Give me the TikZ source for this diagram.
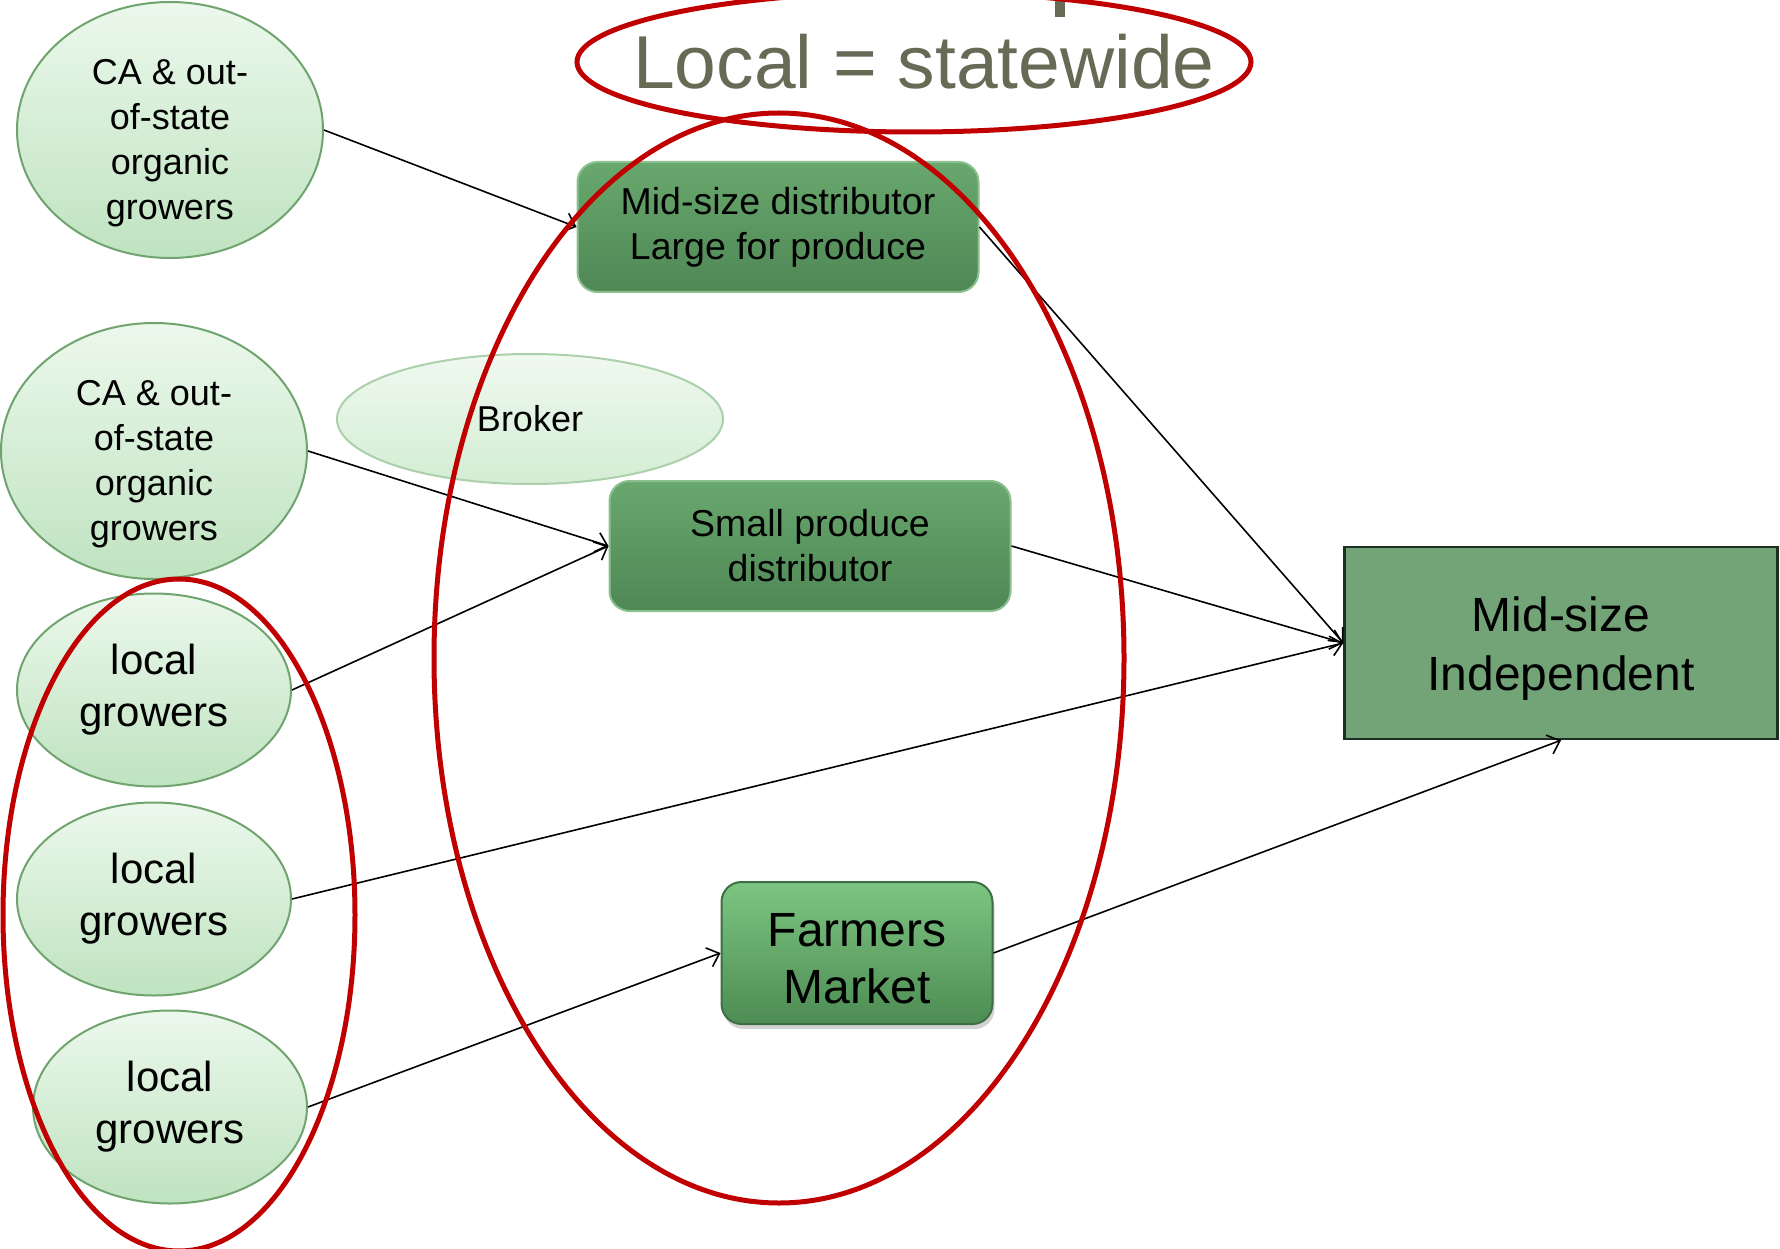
\documentclass[tikz,border=0pt]{standalone}
\usepackage{fontspec}
\setmainfont{Liberation Sans}
\usetikzlibrary{arrows.meta,shapes.geometric,shadows}

\definecolor{growerline}{HTML}{6FA46F}
\definecolor{growertop}{HTML}{ECF8EC}
\definecolor{growerbot}{HTML}{BFE3C0}
\definecolor{brokerline}{HTML}{ABD0AB}
\definecolor{brokertop}{HTML}{F0F9F0}
\definecolor{brokerbot}{HTML}{D3EDD3}
\definecolor{distline}{HTML}{8DC08F}
\definecolor{disttop}{HTML}{68A86E}
\definecolor{distbot}{HTML}{4F8755}
\definecolor{fmtop}{HTML}{7DC582}
\definecolor{fmbot}{HTML}{4D8C53}
\definecolor{fmline}{HTML}{3E6E44}
\definecolor{indepfill}{HTML}{72A478}
\definecolor{indepline}{HTML}{1E2E20}
\definecolor{ringred}{HTML}{C00000}
\definecolor{titlegray}{HTML}{696A55}

% invisible strut that lowers a multi-line label a little
\newcommand{\toppad}[1]{\rule{0pt}{#1}}

\begin{document}
\begin{tikzpicture}[x=1pt,y=-1pt,
  grower/.style={ellipse, draw=growerline, line width=2pt,
    top color=growertop, bottom color=growerbot,
    minimum width=306pt, minimum height=256pt, inner xsep=0pt, inner ysep=-20pt,
    align=center, font=\fontsize{36}{45}\selectfont},
  localgrower/.style={ellipse, draw=growerline, line width=2pt,
    top color=growertop, bottom color=growerbot,
    minimum width=274pt, minimum height=193pt, inner sep=0pt,
    align=center, font=\fontsize{42}{52}\selectfont},
  brokerbox/.style={ellipse, draw=brokerline, line width=2pt,
    top color=brokertop, bottom color=brokerbot,
    minimum width=386pt, minimum height=130pt, inner sep=0pt,
    font=\fontsize{36}{45}\selectfont},
  distbox/.style={rectangle, rounded corners=20pt, draw=distline, line width=2pt,
    top color=disttop, bottom color=distbot,
    minimum width=401pt, minimum height=130pt, inner sep=0pt,
    align=center, font=\fontsize{37.5}{45}\selectfont},
  marketbox/.style={rectangle, rounded corners=20pt, draw=fmline, line width=2pt,
    top color=fmtop, bottom color=fmbot,
    drop shadow={shadow xshift=2pt, shadow yshift=-5pt, opacity=0.35},
    minimum width=271pt, minimum height=142pt, inner sep=0pt,
    align=center, font=\fontsize{48}{57}\selectfont},
  retailbox/.style={rectangle, draw=indepline, fill=indepfill, line width=2.5pt,
    minimum width=433pt, minimum height=192pt, inner sep=0pt,
    align=center, font=\fontsize{48}{59}\selectfont},
  flow/.style={draw=black, line width=1.6pt,
    -{Straight Barb[length=11pt,width=20pt,line width=1.6pt]}},
  ring/.style={draw=ringred, line width=5pt}
]
\useasboundingbox (0,0) rectangle (1780,1249);

% heading
\fill[titlegray] (1055,0) rectangle (1065,17);
\node[anchor=base, text=titlegray, font=\fontsize{75}{90}\selectfont, inner sep=0pt]
  (heading) at (924,89) {Local = statewide};

% growers
\node[grower] (ca1) at (170,130) {\toppad{52pt}CA \& out-\\of-state\\organic\\growers};
\node[grower] (ca2) at (154,451) {\toppad{52pt}CA \& out-\\of-state\\organic\\growers};
\node[localgrower] (loc1) at (154,690) {local\\growers};
\node[localgrower] (loc2) at (154,899) {local\\growers};
\node[localgrower] (loc3) at (170,1107) {local\\growers};

% intermediaries
\node[brokerbox] (broker) at (530,419) {Broker};
\node[distbox] (middist) at (778,227) {Mid-size distributor\\Large for produce};
\node[distbox] (smalldist) at (810,546) {Small produce\\distributor};
\node[marketbox] (market) at (857,953) {\toppad{45pt}Farmers\\Market};

% retailer
\node[retailbox] (indep) at (1561,643) {\toppad{46pt}Mid-size\\Independent};

% flows
\draw[flow] (ca1.east) -- (middist.west);
\draw[flow] (ca2.east) -- (smalldist.west);
\draw[flow] (loc1.east) -- (smalldist.west);
\draw[flow] (middist.east) -- (indep.west);
\draw[flow] (smalldist.east) -- (indep.west);
\draw[flow] (loc2.east) -- (indep.west);
\draw[flow] (loc3.east) -- (market.west);
\draw[flow] (market.east) -- (indep.south);

% highlight rings
\draw[ring] (914,62) ellipse [x radius=337, y radius=70];
\draw[ring] (779,658) ellipse [x radius=345, y radius=545];
\draw[ring] (179,915) ellipse [x radius=176, y radius=336];
\end{tikzpicture}
\end{document}
